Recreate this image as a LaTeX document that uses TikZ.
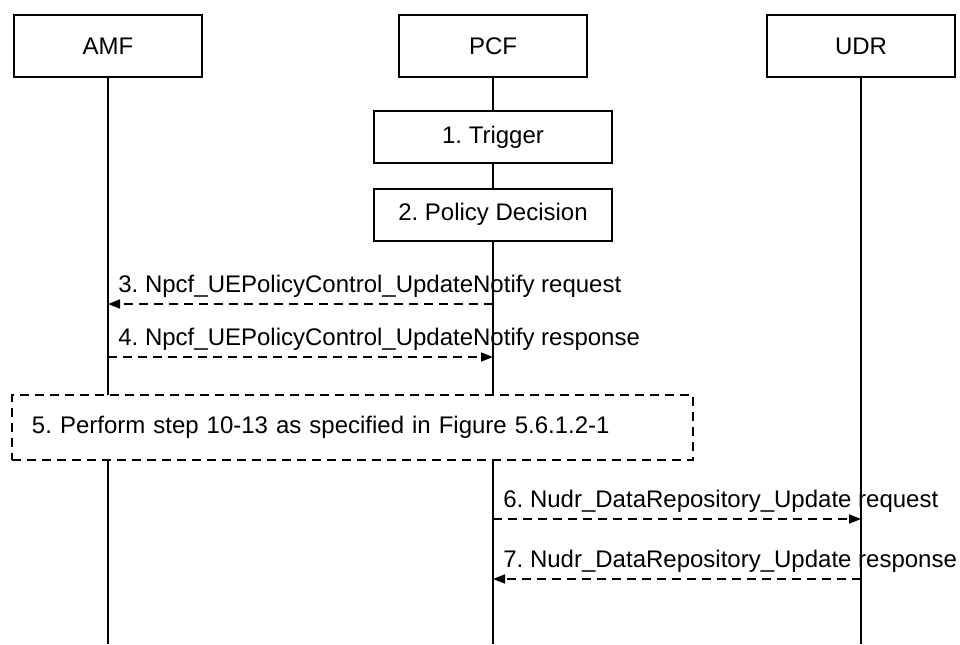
\documentclass[tikz,border=0pt]{standalone}
\usepackage{fontspec}
\setmainfont{Liberation Sans}
\usetikzlibrary{arrows.meta, positioning, backgrounds}
\frenchspacing

\begin{document}
\begin{tikzpicture}[
  x=0.5pt, y=-0.5pt,
  font=\fontsize{12}{14}\selectfont,
  entity/.style={draw, line width=0.9pt, fill=white, minimum width=94pt, minimum height=31pt,
                 inner sep=0pt},
  stepbox/.style={draw, line width=0.9pt, fill=white, minimum width=119pt, minimum height=26pt,
                  inner sep=0pt},
  groupbox/.style={draw, line width=0.8pt, dash pattern=on 4.5pt off 3pt, fill=white,
                   text width=320.5pt, align=left, inner xsep=10pt, inner ysep=0pt,
                   minimum height=32.5pt},
  lifeline/.style={line width=0.7pt},
  msg/.style={line width=0.8pt, dash pattern=on 4.5pt off 3pt,
              -{Triangle[length=6pt, width=4.5pt]}},
  msglabel/.style={anchor=base west, inner sep=0pt, xshift=5pt, yshift=6pt}
]
\useasboundingbox (0,0) rectangle (960,644);

\node[entity] (amf) at (108,46) {AMF};
\node[entity] (pcf) at (493,46) {PCF};
\node[entity] (udr) at (861,46) {UDR};

\node[stepbox, below=16pt of pcf] (trigger) {1. Trigger};
\node[stepbox, below=12pt of trigger] (decision) {2. Policy Decision};

\node[groupbox] (perform) at (352.5,427.5) {5. Perform step 10-13 as specified in Figure 5.6.1.2-1};

\coordinate (m3) at (0,304);
\coordinate (m4) at (0,357);
\coordinate (m6) at (0,519);
\coordinate (m7) at (0,579);
\coordinate (bottom) at (0,644);

\begin{scope}[on background layer]
\foreach \n in {amf,pcf,udr}
  \draw[lifeline] (\n.south) -- (\n |- bottom);
\end{scope}

\draw[msg] (pcf |- m3) -- (amf |- m3);
\node[msglabel] (l3) at (amf |- m3) {3. Npcf\_UEPolicyControl\_UpdateNotify request};
\draw[msg] (amf |- m4) -- (pcf |- m4);
\node[msglabel] (l4) at (amf |- m4) {4. Npcf\_UEPolicyControl\_UpdateNotify response};
\draw[msg] (pcf |- m6) -- (udr |- m6);
\node[msglabel] (l6) at (pcf |- m6) {6. Nudr\_DataRepository\_Update request};
\draw[msg] (udr |- m7) -- (pcf |- m7);
\node[msglabel] (l7) at (pcf |- m7) {7. Nudr\_DataRepository\_Update response};
\end{tikzpicture}
\end{document}
